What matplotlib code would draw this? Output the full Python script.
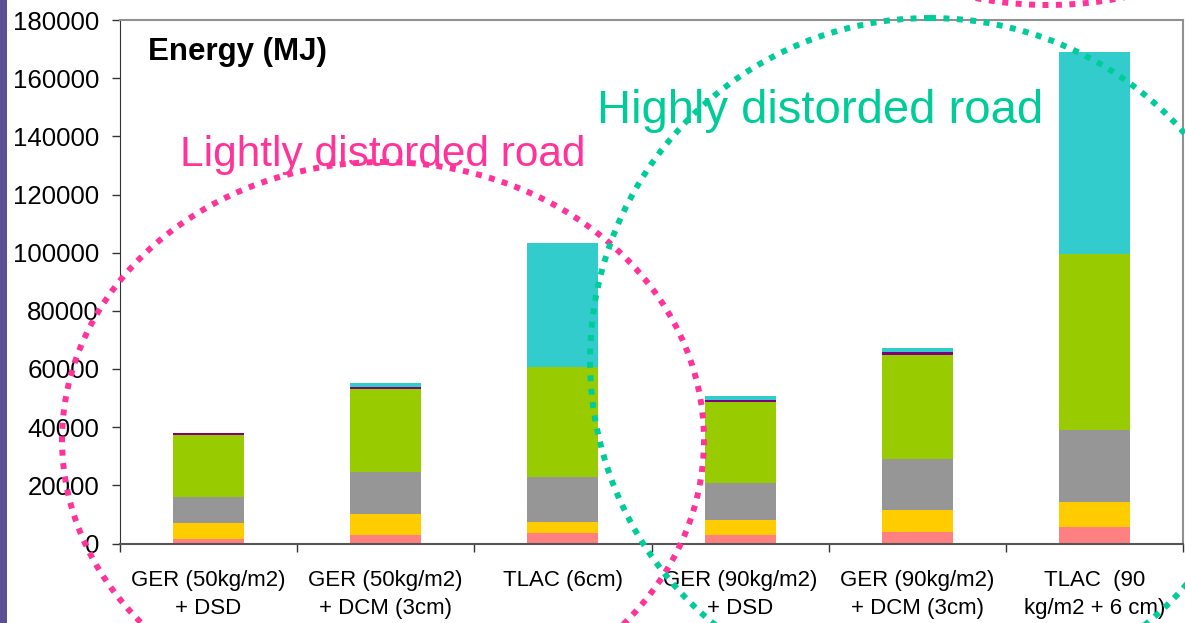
import numpy as np
import matplotlib
matplotlib.use('Agg')

import matplotlib.pyplot as plt
from matplotlib.patches import Ellipse, Rectangle

plt.rcParams['font.family'] = ['Liberation Sans', 'DejaVu Sans']

categories = ['GER (50kg/m2)\n+ DSD', 'GER (50kg/m2)\n+ DCM (3cm)', 'TLAC (6cm)',
              'GER (90kg/m2)\n+ DSD', 'GER (90kg/m2)\n+ DCM (3cm)', 'TLAC  (90\nkg/m2 + 6 cm)']

# energy per stage (MJ), bottom to top
part1 = [1500, 2900, 3600, 2900, 3950, 5670]
part2 = [5500, 7200, 3800, 5200, 7550, 8600]
part3 = [9000, 14600, 15500, 12700, 17550, 24830]
part4 = [21300, 28400, 37800, 27850, 35750, 60500]
part5 = [700, 700, 0, 750, 1000, 0]
part6 = [0, 1400, 42600, 1300, 1400, 69400]

parts = [part1, part2, part3, part4, part5, part6]
colors = ['#FF8080', '#FFCC00', '#969696', '#99CC00', '#800080', '#33CCCC']

fig = plt.figure(figsize=(11.85, 6.23), dpi=100)
ax = fig.add_axes([120/1185, (623-543.5)/623, 1063/1185, 523.5/623])

x = np.arange(len(categories))
bottom = np.zeros(len(categories))
for vals, c in zip(parts, colors):
    ax.bar(x, vals, 0.4, bottom=bottom, color=c, linewidth=0)
    bottom += np.array(vals)

ax.set_xlim(-0.5, 5.5)
ax.set_ylim(0, 180000)
ax.set_yticks(np.arange(0, 180001, 20000))
ax.set_yticklabels([str(v) for v in range(0, 180001, 20000)], fontsize=18.6)
ax.set_xticks(x)
ax.set_xticklabels(categories, fontsize=16, linespacing=1.45)
ax.set_xticks(np.arange(-0.5, 5.6, 1), minor=True)
ax.tick_params(axis='x', which='major', length=0, pad=19)
ax.tick_params(axis='x', which='minor', length=6, width=1, color='#333333')
ax.tick_params(axis='y', length=6, width=1, color='#333333', pad=9)

for s in ['top', 'right']:
    ax.spines[s].set_color('#909090')
    ax.spines[s].set_linewidth(1.5)
ax.spines['left'].set_color('#333333')
ax.spines['bottom'].set_color('#555555')
ax.spines['bottom'].set_linewidth(1.5)

# overlay in pixel coordinates for the annotations
ov = fig.add_axes([0, 0, 1, 1], facecolor='none')
ov.set_xlim(0, 1185)
ov.set_ylim(623, 0)
ov.axis('off')

ov.add_patch(Rectangle((0, 0), 7, 623, color='#5B4F96', linewidth=0))

ov.text(148, 52, 'Energy (MJ)', fontsize=22.5, fontweight='bold', va='center')

pink = '#FF3399'
teal = '#00CC99'
dots = (0, (1, 1.25))
ov.add_patch(Ellipse((383, 440), 642, 556, fill=False, edgecolor=pink,
                     linewidth=4.3, linestyle=dots))
ov.add_patch(Ellipse((930, 360), 680, 684, fill=False, edgecolor=teal,
                     linewidth=4.3, linestyle=dots))
ov.add_patch(Ellipse((1048, -200), 560, 410, fill=False, edgecolor=pink,
                     linewidth=4.3, linestyle=dots))

ov.text(180, 155, 'Lightly distorded road', color=pink, fontsize=30.5, va='center')
ov.text(597, 111, 'Highly distorded road', color=teal, fontsize=34, va='center')

plt.savefig('out.png')
